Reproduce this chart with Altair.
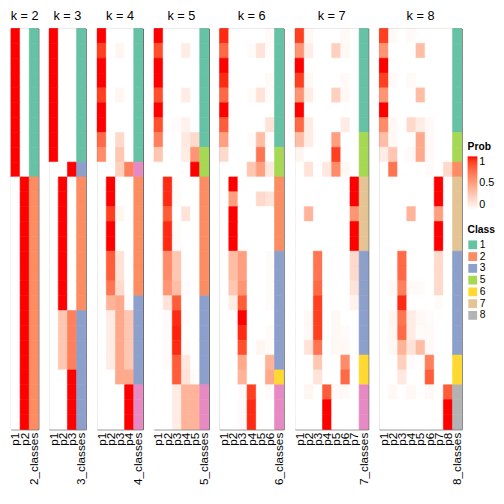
import altair as alt
import pandas as pd

ROWS = 27
CELL_W = 9.33
PANEL_H = 409

CLASS_DOMAIN = ["1", "2", "3", "4", "5", "6", "7", "8"]
CLASS_COLORS = ["#66C2A5", "#FC8D62", "#8DA0CB", "#E78AC3", "#A6D854", "#FFD92F", "#E5C494", "#B3B3B3"]
CLASS_LEGEND = ["1", "2", "3", "5", "6", "7", "8"]

cls2 = [1] * 10 + [2] * 17
prob2 = [[1, 0]] * 10 + [[0, 1]] * 17

cls3 = [1] * 9 + [3] + [2] * 9 + [3] * 8
prob3 = [[1, 0, 0]] * 9 + [[0, 0, 1]] + [[0, 1, 0]] * 9 + [[0, 0.3, 0.65]] * 4 + [[0, 0, 1]] * 4

cls4 = [1] * 9 + [4] + [2] * 8 + [3] * 6 + [4] * 3
prob4 = [
    [1, 0, 0, 0], [0.9, 0, 0.05, 0], [1, 0, 0, 0], [1, 0, 0, 0], [0.9, 0, 0.05, 0],
    [1, 0, 0, 0], [1, 0, 0, 0], [0.75, 0, 0.2, 0], [0.6, 0, 0.3, 0], [0, 0, 0.25, 0.65],
    [0, 1, 0, 0], [0, 1, 0, 0], [0, 0.9, 0.05, 0], [0, 1, 0, 0], [0, 1, 0, 0],
    [0, 0.8, 0.15, 0], [0, 0.8, 0.15, 0], [0, 0.7, 0.2, 0], [0, 0.4, 0.45, 0.02],
    [0, 0.1, 0.45, 0.3], [0, 0.1, 0.45, 0.3], [0, 0.1, 0.45, 0.3], [0, 0.1, 0.45, 0.3],
    [0, 0, 0.45, 0.45], [0, 0, 0, 1], [0, 0, 0, 1], [0, 0, 0, 1],
]

cls5 = [1] * 8 + [5] * 2 + [2] * 8 + [3] * 6 + [4] * 3
prob5 = [
    [1, 0, 0, 0, 0], [0.85, 0, 0, 0.1, 0], [1, 0, 0, 0, 0], [1, 0, 0, 0, 0],
    [0.85, 0, 0, 0.1, 0], [1, 0, 0, 0, 0], [0.85, 0, 0.02, 0.07, 0], [0.65, 0, 0, 0.12, 0.2],
    [0.3, 0, 0, 0.1, 0.55], [0, 0, 0, 0, 1],
    [0, 0.95, 0.02, 0, 0], [0, 0.95, 0.02, 0, 0], [0, 0.8, 0, 0.15, 0], [0, 0.95, 0.02, 0, 0],
    [0, 0.95, 0.02, 0, 0], [0, 0.6, 0.3, 0, 0], [0, 0.6, 0.3, 0, 0], [0, 0.55, 0.35, 0.02, 0],
    [0, 0.15, 0.8, 0, 0], [0, 0.02, 0.95, 0.02, 0], [0, 0.02, 0.97, 0, 0], [0, 0.02, 0.95, 0.02, 0],
    [0, 0.02, 0.8, 0.12, 0], [0, 0, 0.8, 0.15, 0.02],
    [0, 0, 0.1, 0.4, 0.4], [0, 0, 0.1, 0.4, 0.4], [0, 0, 0.1, 0.4, 0.4],
]

cls6 = [1] * 8 + [5] * 2 + [2] * 5 + [3] * 8 + [6] + [4] * 3
prob6 = [
    [0.95, 0, 0, 0, 0, 0.03], [0.75, 0, 0, 0.02, 0.15, 0.02], [1, 0, 0, 0, 0, 0],
    [0.95, 0, 0, 0, 0, 0.03], [0.75, 0, 0, 0.02, 0.15, 0.02], [1, 0, 0, 0, 0, 0],
    [0.8, 0, 0, 0, 0, 0.15], [0.5, 0, 0, 0.02, 0.35, 0.02], [0.2, 0, 0, 0, 0.7, 0],
    [0, 0, 0, 0.3, 0.5, 0.12],
    [0, 1, 0, 0, 0, 0], [0, 0.5, 0, 0, 0.2, 0.15], [0, 1, 0, 0, 0, 0], [0, 1, 0, 0, 0, 0],
    [0, 1, 0, 0, 0, 0],
    [0, 0.35, 0.5, 0, 0, 0.02], [0, 0.35, 0.5, 0, 0, 0.02], [0, 0.3, 0.55, 0, 0, 0.02],
    [0, 0.1, 0.8, 0, 0, 0.02], [0, 0, 1, 0, 0, 0], [0, 0, 0.95, 0, 0, 0.02],
    [0, 0, 0.85, 0, 0.05, 0.02], [0, 0, 0.45, 0, 0, 0.4], [0, 0, 0.4, 0, 0, 0.45],
    [0, 0, 0.02, 0.9, 0, 0.02], [0, 0, 0.02, 0.95, 0, 0], [0, 0, 0.02, 0.95, 0, 0],
]

cls7 = [1] * 7 + [5] * 3 + [7] * 5 + [3] * 7 + [6] * 2 + [4] * 3
prob7 = [
    [0.9, 0.04, 0, 0, 0, 0.03, 0], [0.55, 0.1, 0, 0, 0.25, 0.04, 0], [1, 0, 0, 0, 0, 0, 0],
    [0.9, 0.04, 0, 0, 0, 0.03, 0], [0.55, 0.1, 0, 0, 0.25, 0.04, 0], [1, 0, 0, 0, 0, 0, 0],
    [0.75, 0.1, 0, 0, 0, 0.1, 0], [0.35, 0.1, 0, 0, 0.5, 0, 0], [0.05, 0, 0, 0, 0.9, 0, 0],
    [0, 0.15, 0, 0.12, 0.6, 0.04, 0],
    [0, 0, 0, 0, 0, 0, 1], [0, 0, 0, 0, 0, 0, 1], [0, 0.4, 0, 0, 0, 0, 0.55],
    [0, 0, 0, 0, 0, 0, 1], [0, 0, 0, 0, 0, 0, 1],
    [0, 0, 0.7, 0, 0, 0, 0.2], [0, 0, 0.7, 0, 0, 0, 0.2], [0, 0, 0.75, 0, 0, 0, 0.15],
    [0, 0, 0.9, 0, 0, 0, 0.07], [0, 0.03, 0.9, 0, 0.04, 0, 0], [0, 0.03, 0.9, 0, 0.04, 0.02, 0],
    [0, 0.15, 0.7, 0, 0.04, 0.04, 0], [0, 0, 0.3, 0, 0, 0.6, 0], [0, 0, 0.15, 0, 0, 0.75, 0],
    [0, 0.05, 0, 0.8, 0.03, 0.03, 0], [0, 0, 0, 1, 0, 0, 0], [0, 0, 0, 1, 0, 0, 0],
]

cls8 = [1] * 7 + [5] * 2 + [2] + [7] * 5 + [3] * 7 + [6] * 2 + [8] * 3
prob8 = [
    [0.9, 0.03, 0, 0.03, 0, 0, 0, 0], [0.55, 0, 0, 0, 0.35, 0, 0, 0], [1, 0, 0, 0, 0, 0, 0, 0],
    [0.9, 0.03, 0, 0.03, 0, 0, 0, 0], [0.55, 0, 0, 0, 0.35, 0, 0, 0], [1, 0, 0, 0, 0, 0, 0, 0],
    [0.6, 0.04, 0, 0.2, 0.1, 0.03, 0, 0], [0.35, 0.04, 0, 0, 0.45, 0.03, 0, 0],
    [0.1, 0.3, 0, 0.03, 0.45, 0.03, 0, 0], [0, 0.7, 0, 0, 0, 0.02, 0, 0.2],
    [0, 0, 0, 0, 0, 0, 1, 0], [0, 0, 0, 0, 0, 0, 1, 0], [0, 0, 0, 0.4, 0, 0, 0.5, 0],
    [0, 0, 0, 0, 0, 0, 1, 0], [0, 0, 0, 0, 0, 0, 1, 0],
    [0, 0, 0.75, 0, 0, 0, 0.2, 0], [0, 0, 0.75, 0, 0, 0, 0.2, 0],
    [0, 0.03, 0.65, 0.03, 0.02, 0, 0.2, 0], [0, 0, 0.95, 0, 0, 0, 0.02, 0],
    [0, 0.05, 0.7, 0.1, 0.04, 0.02, 0, 0], [0, 0.04, 0.75, 0.1, 0.02, 0.03, 0, 0],
    [0, 0.04, 0.4, 0.15, 0.35, 0.03, 0, 0], [0, 0, 0.25, 0.02, 0, 0.65, 0, 0],
    [0, 0, 0.12, 0, 0, 0.8, 0, 0],
    [0, 0.04, 0, 0.04, 0, 0.03, 0, 0.8], [0, 0, 0, 0, 0, 0, 0, 1], [0, 0, 0, 0, 0, 0, 0, 1],
]

PANELS = [(2, cls2, prob2), (3, cls3, prob3), (4, cls4, prob4), (5, cls5, prob5),
          (6, cls6, prob6), (7, cls7, prob7), (8, cls8, prob8)]

prob_scale = alt.Scale(domain=[0, 1], range=["#FFFFFF", "#FF0000"], interpolate="lab")
class_scale = alt.Scale(domain=CLASS_DOMAIN, range=CLASS_COLORS)

panels = []
for k, cls, prob in PANELS:
    cols = [f"p{i + 1}" for i in range(k)] + [f"{k}_classes"]
    prob_rows = []
    for r, vals in enumerate(prob):
        for i, v in enumerate(vals):
            prob_rows.append({"row": r, "col": cols[i], "prob": v})
    class_rows = [{"row": r, "col": cols[-1], "cls": str(c)} for r, c in enumerate(cls)]

    x_enc = alt.X("col:N", scale=alt.Scale(domain=cols, paddingInner=0, paddingOuter=0),
                  sort=cols,
                  axis=alt.Axis(title=None, ticks=False, domain=False, labelAngle=270,
                                labelAlign="right", labelBaseline="middle",
                                labelFontSize=12, labelPadding=3, labelColor="#000000",
                                labelFont="Liberation Sans"))
    y_enc = alt.Y("row:O", scale=alt.Scale(domain=list(range(ROWS)), paddingInner=0, paddingOuter=0),
                  axis=None)

    prob_layer = alt.Chart(pd.DataFrame(prob_rows)).mark_rect(strokeWidth=0.6).encode(
        x=x_enc, y=y_enc,
        color=alt.Color("prob:Q", scale=prob_scale,
                        legend=alt.Legend(title="Prob", orient="none", legendX=466, legendY=116,
                                          gradientLength=55, gradientThickness=10,
                                          values=[0, 0.5, 1], format="~g",
                                          labelFontSize=11, direction="vertical")),
        stroke=alt.Stroke("prob:Q", scale=prob_scale, legend=None),
    )
    class_layer = alt.Chart(pd.DataFrame(class_rows)).mark_rect(strokeWidth=0.6).encode(
        x=x_enc, y=y_enc,
        fill=alt.Fill("cls:N", scale=class_scale,
                      legend=alt.Legend(title="Class", orient="none", legendX=466, legendY=201,
                                        values=CLASS_LEGEND, symbolType="square",
                                        symbolSize=81, symbolStrokeWidth=0,
                                        labelFontSize=10.5, rowPadding=1)),
        stroke=alt.Stroke("cls:N", scale=class_scale, legend=None),
    )
    panel = alt.layer(prob_layer, class_layer).properties(
        width=CELL_W * (k + 1), height=PANEL_H,
        title=alt.TitleParams(f"k = {k}", fontSize=13, fontWeight="normal",
                              font="Liberation Sans", offset=5, color="#000000"),
    )
    panels.append(panel)

chart = alt.hconcat(*panels, spacing=11, bounds="flush").resolve_scale(
    color="shared", fill="shared", stroke="independent"
).properties(
    padding={"left": 0, "top": -3, "right": 0, "bottom": 0}
).configure_view(
    stroke="#444444", strokeWidth=1
).configure_legend(
    titleFont="Liberation Sans", labelFont="Liberation Sans", titleFontSize=10.5,
    titleColor="#000000", labelColor="#000000",
    titlePadding=4, labelOffset=2
)

chart.save("out.html", embed_options={"renderer": "svg", "actions": False})
